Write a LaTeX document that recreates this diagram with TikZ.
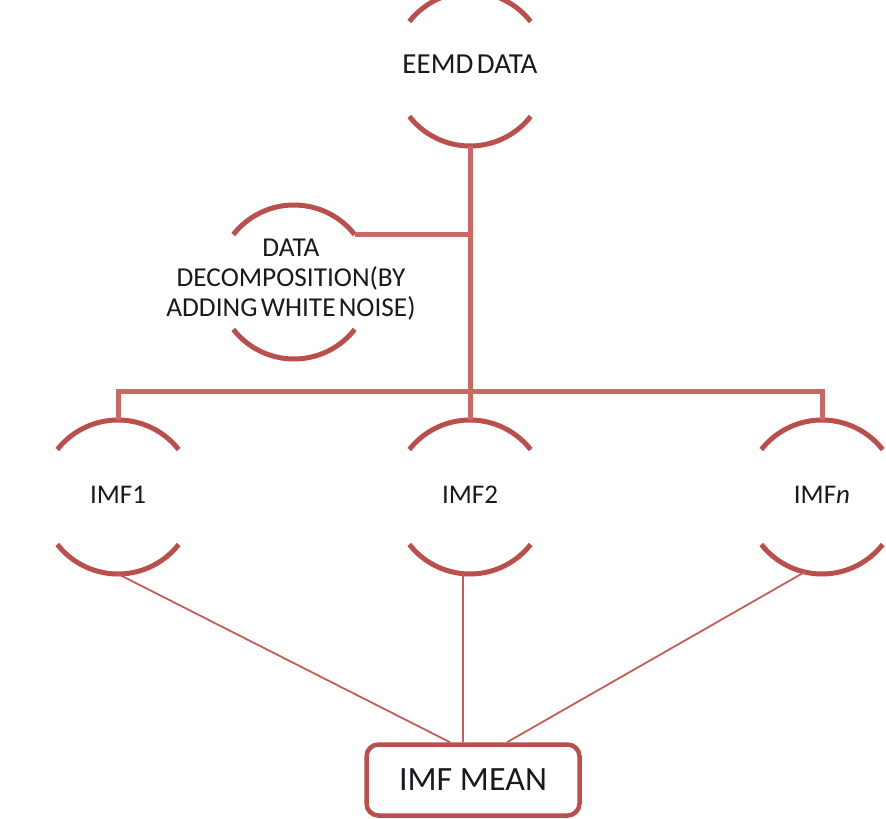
\documentclass[tikz,border=0pt]{standalone}
\usepackage{fontspec}
\setmainfont{Carlito}
\definecolor{arcred}{RGB}{185,80,77}
\definecolor{linkred}{RGB}{200,105,102}
\definecolor{thinred}{RGB}{192,95,90}
\definecolor{txt}{RGB}{25,25,30}
\newcommand{\tightsp}{\spaceskip=0.12em plus 0em minus 0em\relax}
\begin{document}
\begin{tikzpicture}[x=1pt,y=-1pt,
  ring/.style={circle,draw=none,inner sep=0pt,outer sep=0pt,minimum size=154pt},
  lbl/.style={text=txt,font=\fontsize{27}{32}\selectfont,inner sep=0pt},
  arcline/.style={draw=arcred,line width=5pt},
  link/.style={draw=linkred,line width=5pt},
  thin/.style={draw=thinred,line width=1.8pt},
  meanbox/.style={draw=arcred,line width=4.5pt,rounded corners=12pt,minimum width=213pt,minimum height=71pt,inner sep=0pt,text=txt,font=\fontsize{34}{40}\selectfont}
]
\path[use as bounding box] (0,0) rectangle (886,819);

% rings
\node[ring] (eemd) at (470,69) {};
\node[ring] (dd) at (294,282) {};
\node[ring] (imf1) at (118,497) {};
\node[ring] (imf2) at (470,497) {};
\node[ring] (imfn) at (822,497) {};

% arcs
\foreach \n in {eemd,dd,imf1,imf2,imfn}{
  \draw[arcline] (\n.38) arc[start angle=38,end angle=142,radius=77pt];
  \draw[arcline] (\n.218) arc[start angle=218,end angle=322,radius=77pt];
}

% labels
\node[lbl,font={\fontsize{29}{34}\selectfont\tightsp}] (eemdT) at ([yshift=5pt]eemd.center) {EEMD DATA};
\node[lbl,align=center,font={\fontsize{27.3}{30}\selectfont\tightsp}] (ddT) at ([xshift=-3pt,yshift=2pt]dd.center) {DATA\\DECOMPOSITION(BY\\ADDING WHITE NOISE)};
\node[lbl] (imf1T) at ([yshift=2pt]imf1.center) {IMF1};
\node[lbl] (imf2T) at ([yshift=2pt]imf2.center) {IMF2};
\node[lbl] (imfnT) at ([yshift=2pt]imfn.center) {IMF\textit{n}};

% mean box
\node[meanbox] (mean) at (473,780) {IMF MEAN};

% tree connectors
\coordinate (bar) at (470,391);
\draw[link] (eemd.south) -- (imf2.north);
\draw[link] (dd.38) -- (dd.38 -| eemd.south);
\draw[link] (imf1.north) -- (imf1.north |- bar) -- (imfn.north |- bar) -- (imfn.north);

% thin connectors
\draw[thin] (imf1.south) -- ([xshift=-23pt]mean.north);
\draw[thin] ([xshift=-7pt]imf2.south) -- ([xshift=-10pt]mean.north);
\draw[thin] (imfn.257) -- ([xshift=34pt]mean.north);
\end{tikzpicture}
\end{document}
